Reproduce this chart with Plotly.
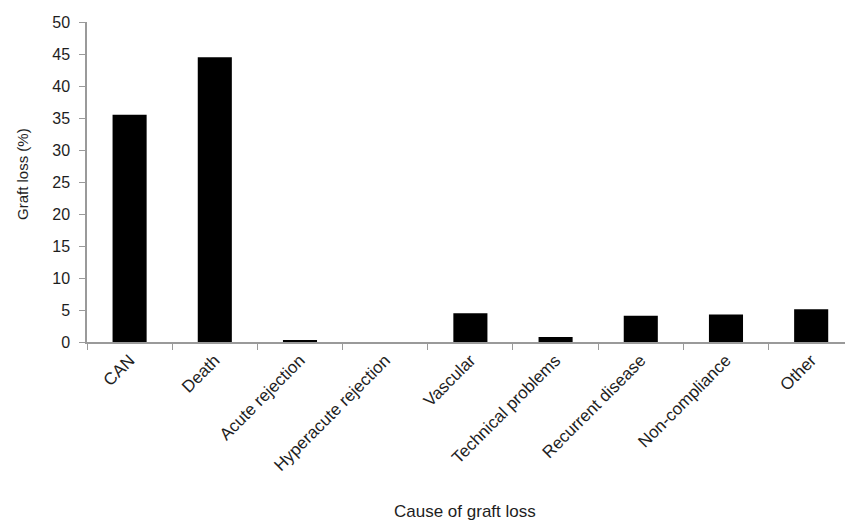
import plotly.graph_objects as go

# Causes of graft loss and their share (%)
causes = ["CAN", "Death", "Acute rejection", "Hyperacute rejection", "Vascular",
          "Technical problems", "Recurrent disease", "Non-compliance", "Other"]
graft_loss_pct = [35.5, 44.5, 0.3, 0.0, 4.5, 0.8, 4.1, 4.3, 5.1]
y_ticks = [0, 5, 10, 15, 20, 25, 30, 35, 40, 45, 50]

font_family = "Liberation Sans, Arial, sans-serif"
axis_grey = "#9a9a9a"
text_col = "#1e1e1e"

fig = go.Figure(
    go.Bar(
        x=causes,
        y=graft_loss_pct,
        width=0.4,
        marker=dict(color="#000000", line=dict(width=0)),
    )
)

fig.update_layout(
    width=845,
    height=522,
    margin=dict(l=87, r=0, t=22, b=180),
    paper_bgcolor="white",
    plot_bgcolor="white",
    showlegend=False,
    font=dict(family=font_family, color=text_col),
    xaxis=dict(
        type="category",
        range=[-0.5, 8.397],
        showline=True,
        linecolor=axis_grey,
        linewidth=1.5,
        ticks="outside",
        tickson="boundaries",
        ticklen=6,
        tickcolor=axis_grey,
        tickangle=-45,
        tickfont=dict(size=17, color=text_col),
        showgrid=False,
        zeroline=False,
        automargin=False,
    ),
    yaxis=dict(
        range=[0, 50],
        tickvals=y_ticks,
        showline=True,
        linecolor=axis_grey,
        linewidth=1.5,
        ticks="outside",
        ticklen=6,
        tickcolor=axis_grey,
        tickfont=dict(size=16, color=text_col),
        ticklabelstandoff=6,
        showgrid=False,
        zeroline=False,
        automargin=False,
    ),
    annotations=[
        dict(
            text="Cause of graft loss",
            xref="paper", yref="paper",
            x=(465 - 87) / (845 - 87), y=-(511 - 342) / 320,
            xanchor="center", yanchor="middle",
            showarrow=False,
            font=dict(size=17, color=text_col),
        ),
        dict(
            text="Graft loss (%)",
            xref="paper", yref="paper",
            x=-(87 - 22) / (845 - 87), y=(342 - 174) / 320,
            xanchor="center", yanchor="middle",
            textangle=-90,
            showarrow=False,
            font=dict(size=15, color=text_col),
        ),
    ],
)

fig.write_html("out.html")
